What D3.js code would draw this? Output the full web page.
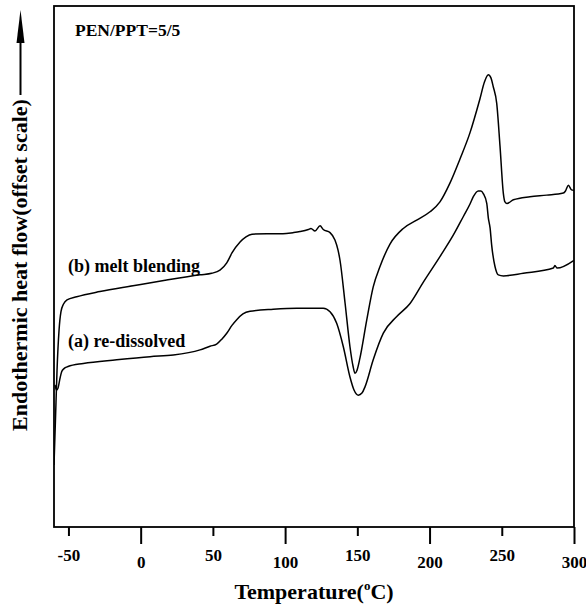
<!DOCTYPE html>
<html>
<head>
<meta charset="utf-8">
<title>DSC PEN/PPT</title>
<script src="https://d3js.org/d3.v7.min.js"></script>
<style>
  body { margin: 0; background: #fff; }
  svg text { font-family: "Liberation Serif", "Times New Roman", serif; font-weight: bold; fill: #000; }
</style>
</head>
<body>
<svg width="586" height="606"></svg>
<script>
// curve (b) melt blending
const tempB = [-60, -59.0, -57.9, -56.5, -55.2, -53.4, -51.0, -44.3, -28.2, -5.3, 18.0, 41.1, 49.2, 54.9, 59.6, 63.2, 68.8, 72.9, 77.1, 87.3, 98.5, 105.5, 110.3, 116.1, 117.9, 120.7, 124.2, 126.4, 131.1, 134.5, 136.6, 138.0, 141.5, 144.9, 147.0, 148.4, 149.8, 151.8, 156.5, 161.0, 165.7, 172.6, 181.8, 191.1, 200.3, 207.2, 214.1, 221.0, 227.9, 234.9, 238.0, 240.7, 242.5, 244.1, 246.5, 248.8, 251.1, 252.2, 253.6, 258.0, 269.5, 281.1, 292.6, 294.1, 296.1, 298.3, 300.0];
const flowB = [11.9, 20.5, 30.1, 37.8, 41.3, 42.8, 43.6, 44.2, 45.2, 46.3, 47.4, 48.4, 48.7, 49.3, 50.7, 52.6, 54.7, 55.7, 56.2, 56.3, 56.3, 56.5, 56.7, 57.1, 57.3, 56.8, 57.8, 57.1, 56.5, 55.1, 53.2, 51.2, 43.0, 34.6, 30.9, 29.5, 30.1, 32.4, 39.7, 46.1, 50.0, 54.3, 57.3, 58.9, 60.5, 62.4, 66.0, 70.6, 75.6, 82.2, 85.4, 86.8, 86.2, 84.5, 81.3, 73.0, 64.0, 62.4, 62.1, 62.8, 63.4, 63.7, 64.1, 64.5, 65.6, 64.7, 64.6];

// curve (a) re-dissolved
const tempA = [-59.3, -58.3, -57.2, -55.8, -54.7, -53.1, -50.3, -39.7, -16.6, 6.5, 22.6, 41.1, 48.0, 52.6, 56.3, 59.6, 63.2, 66.5, 70.8, 75.7, 91.8, 108.0, 126.4, 131.1, 135.7, 140.3, 144.9, 147.7, 150.7, 153.2, 155.3, 161.0, 168.0, 177.3, 186.5, 195.7, 207.2, 216.4, 223.4, 228.0, 230.3, 233.7, 235.6, 237.2, 239.6, 240.7, 241.9, 243.0, 245.3, 247.6, 251.1, 264.9, 285.7, 286.8, 288.2, 300.0];
const flowA = [27.3, 26.3, 26.7, 28.6, 29.8, 30.4, 30.8, 31.4, 32.1, 32.7, 33.0, 34.0, 34.7, 35.1, 36.1, 37.2, 38.7, 39.8, 40.9, 41.4, 41.8, 42.0, 42.0, 41.3, 39.1, 34.6, 28.8, 26.3, 25.3, 25.7, 26.9, 32.1, 37.2, 40.4, 42.9, 47.0, 51.9, 56.0, 59.6, 62.0, 63.4, 64.5, 64.5, 64.0, 62.1, 59.3, 57.4, 54.1, 50.0, 48.4, 48.2, 48.7, 49.7, 50.2, 49.7, 51.2];

const majorTicks = [0, 100, 200, 300];
const minorTicks = [-50, 50, 150, 250];

const svg = d3.select("svg"),
      margin = {top: 6, right: 12, bottom: 79, left: 54},
      width = +svg.attr("width"),
      height = +svg.attr("height");

const x = d3.scaleLinear()
            .domain([-60, 300])
            .range([margin.left, width - margin.right]);
const y = d3.scaleLinear()
            .domain([0, 100])
            .range([height - margin.bottom, margin.top]);

// clip
svg.append("clipPath").attr("id", "clip")
   .append("rect")
   .attr("x", x(-60)).attr("y", y(100))
   .attr("width", x(300) - x(-60)).attr("height", y(0) - y(100));

// curves
const line = d3.line()
               .x(d => x(d[0]))
               .y(d => y(d[1]))
               .curve(d3.curveMonotoneX);

const curves = [d3.zip(tempB, flowB), d3.zip(tempA, flowA)];
svg.append("g").attr("clip-path", "url(#clip)")
   .selectAll("path")
   .data(curves)
   .enter().append("path")
   .attr("d", line)
   .attr("fill", "none")
   .attr("stroke", "#000")
   .attr("stroke-width", 1.5);

// frame
svg.append("rect")
   .attr("x", x(-60)).attr("y", y(100))
   .attr("width", x(300) - x(-60)).attr("height", y(0) - y(100))
   .attr("fill", "none")
   .attr("stroke", "#000")
   .attr("stroke-width", 1.8);

// x axis: long ticks with lower labels, short ticks with higher labels
const xAxis = svg.append("g")
   .attr("transform", `translate(0,${y(0)})`)
   .call(d3.axisBottom(x).tickValues(minorTicks.concat(majorTicks)).tickSizeOuter(0));
xAxis.select(".domain").remove();
xAxis.selectAll(".tick line")
     .attr("stroke-width", 2)
     .attr("y2", d => majorTicks.includes(d) ? 17 : 9);
xAxis.selectAll(".tick text")
     .attr("y", d => majorTicks.includes(d) ? 41 : 34)
     .attr("dy", 0)
     .style("font-size", "17px")
     .style("font-family", "Liberation Serif")
     .style("font-weight", "bold")
     .text(d => d);

// x title
const xt = svg.append("text")
   .attr("x", 314).attr("y", 599)
   .attr("text-anchor", "middle")
   .style("font-size", "22px");
xt.append("tspan").text("Temperature(");
xt.append("tspan").attr("dy", -9).style("font-size", "13px").text("o");
xt.append("tspan").attr("dy", 9).text("C)");

// y title with arrow
svg.append("text")
   .attr("transform", "translate(27,265) rotate(-90)")
   .attr("text-anchor", "middle")
   .style("font-size", "22px")
   .text("Endothermic heat flow(offset scale)");
svg.append("line")
   .attr("x1", 20.5).attr("x2", 20.5)
   .attr("y1", 95).attr("y2", 40)
   .attr("stroke", "#000").attr("stroke-width", 2);
svg.append("path")
   .attr("d", "M20.5,10 L16.5,43 L24.5,43 Z")
   .attr("fill", "#000");

// annotations
svg.append("text").attr("x", 75).attr("y", 36)
   .style("font-size", "17.5px").text("PEN/PPT=5/5");
svg.append("text").attr("x", 68).attr("y", 272)
   .style("font-size", "18px").text("(b) melt blending");
svg.append("text").attr("x", 68).attr("y", 347)
   .style("font-size", "18px").text("(a) re-dissolved");
</script>
</body>
</html>
